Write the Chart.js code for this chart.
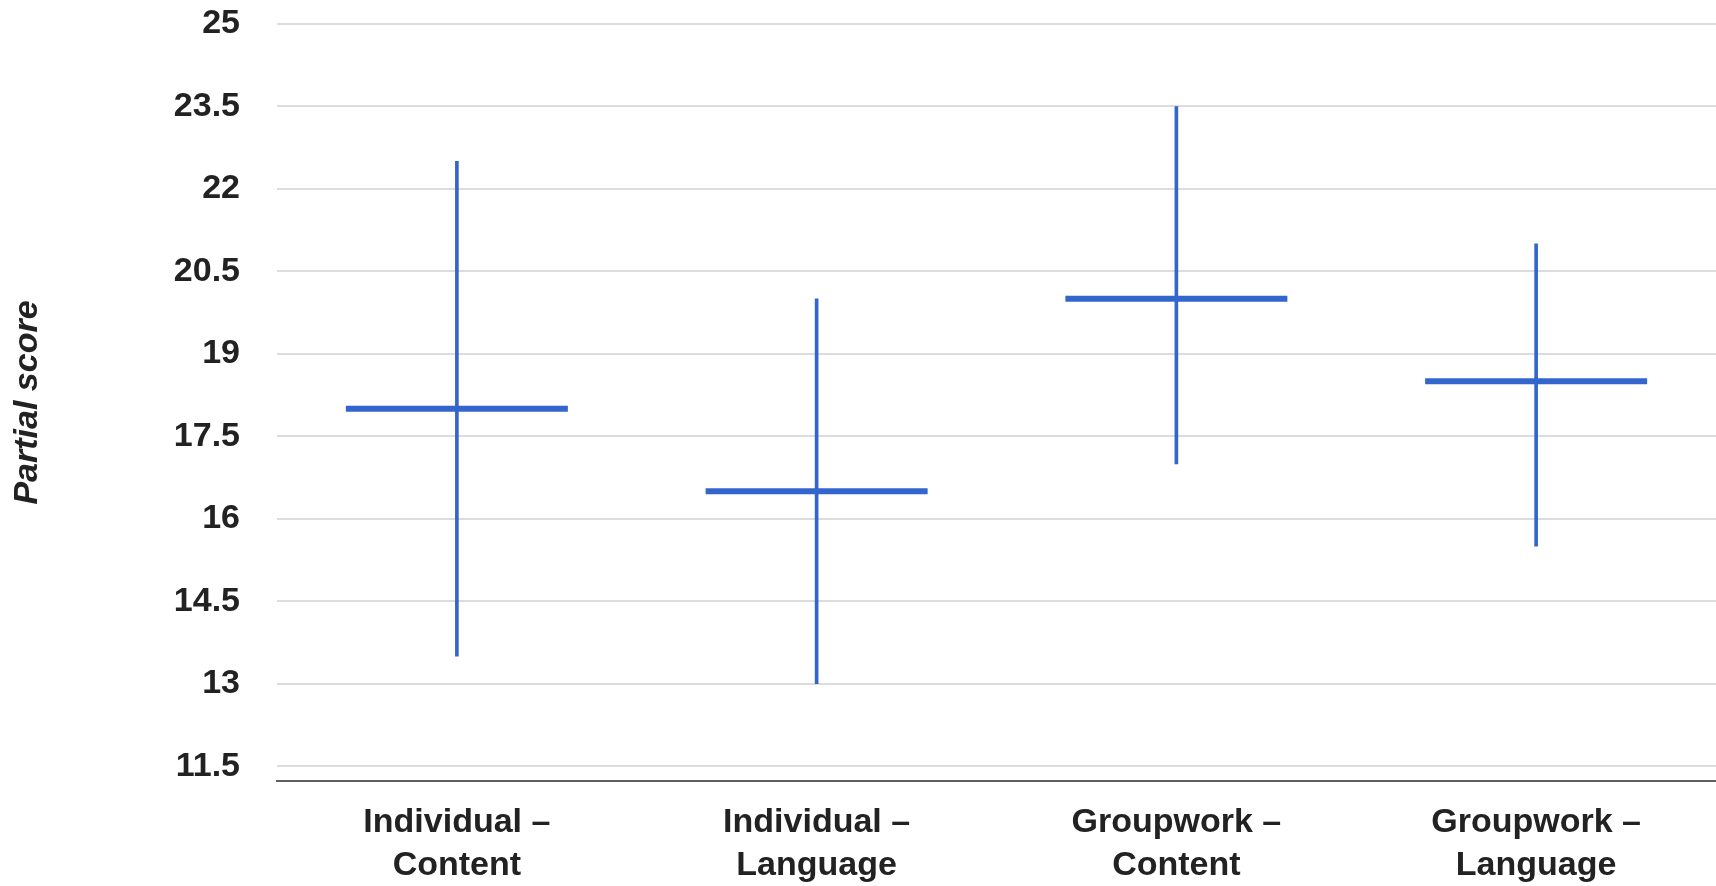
<!DOCTYPE html>
<html>
<head>
<meta charset="utf-8">
<script src="https://cdn.jsdelivr.net/npm/chart.js@4/dist/chart.umd.min.js"></script>
<style>
  body { margin: 0; background: #fff; }
  #wrap { width: 1716px; height: 886px; }
</style>
</head>
<body>
<div id="wrap"><canvas id="scoreChart"></canvas></div>
<script>
// values
const categories = [
    ['Individual –', 'Content'],
    ['Individual –', 'Language'],
    ['Groupwork –', 'Content'],
    ['Groupwork –', 'Language']
];
const means = [18, 16.5, 20, 18.5];
const lows = [13.5, 13, 17, 15.5];
const highs = [22.5, 20, 23.5, 21];
const yTicks = [11.5, 13, 14.5, 16, 17.5, 19, 20.5, 22, 23.5, 25];

const blue = '#3366cc';
const textColor = '#222222';
const fontFamily = "'Liberation Sans', Arial, sans-serif";

let ranges = [];
for (let i = 0; i < categories.length; i++) {
    ranges.push([lows[i], highs[i]]);
}

let ctx = document.getElementById('scoreChart').getContext('2d');

let chartData = {
    type: 'bar',
    data: {
        labels: categories,
        datasets: [{
            type: 'line',
            label: 'Mean',
            data: means,
            showLine: false,
            clip: false,
            pointStyle: 'line',
            pointRadius: 111,
            pointHoverRadius: 111,
            borderColor: blue,
            borderWidth: 6,
            pointBorderWidth: 6,
            order: 0
        }, {
            label: 'Range',
            data: ranges,
            backgroundColor: blue,
            borderWidth: 0,
            barThickness: 3,
            borderSkipped: false,
            order: 1
        }]
    },
    options: {
        responsive: true,
        maintainAspectRatio: false,
        animation: false,
        layout: {
            autoPadding: false,
            padding: { top: 24, right: 0, bottom: 0, left: 0 }
        },
        plugins: {
            legend: { display: false },
            tooltip: { enabled: false }
        },
        scales: {
            x: {
                offset: true,
                grid: { display: false, drawTicks: false },
                border: { display: true, color: '#5f5f5f', width: 2 },
                ticks: {
                    color: textColor,
                    padding: 20,
                    maxRotation: 0,
                    autoSkip: false,
                    font: { family: fontFamily, size: 34, weight: 'bold', lineHeight: 1.27 }
                },
                afterFit: function (scale) {
                    scale.height = 105;
                    scale.paddingLeft = 0;
                    scale.paddingRight = 0;
                }
            },
            y: {
                min: 11.23,
                max: 25,
                grid: { color: '#dcdcdc', lineWidth: 2, drawTicks: false },
                border: { display: false },
                ticks: {
                    color: textColor,
                    padding: 37,
                    font: { family: fontFamily, size: 34, weight: 'bold' }
                },
                afterBuildTicks: function (scale) {
                    scale.ticks = yTicks.map(v => ({ value: v }));
                },
                afterFit: function (scale) {
                    scale.width = 277;
                    scale.paddingTop = 0;
                    scale.paddingBottom = 0;
                },
                title: {
                    display: true,
                    text: 'Partial score',
                    color: textColor,
                    padding: { top: 7, bottom: 0 },
                    font: { family: fontFamily, size: 34, weight: 'bold', style: 'italic' }
                }
            }
        }
    }
};

let scoreChart = new Chart(ctx, chartData);
</script>
</body>
</html>
